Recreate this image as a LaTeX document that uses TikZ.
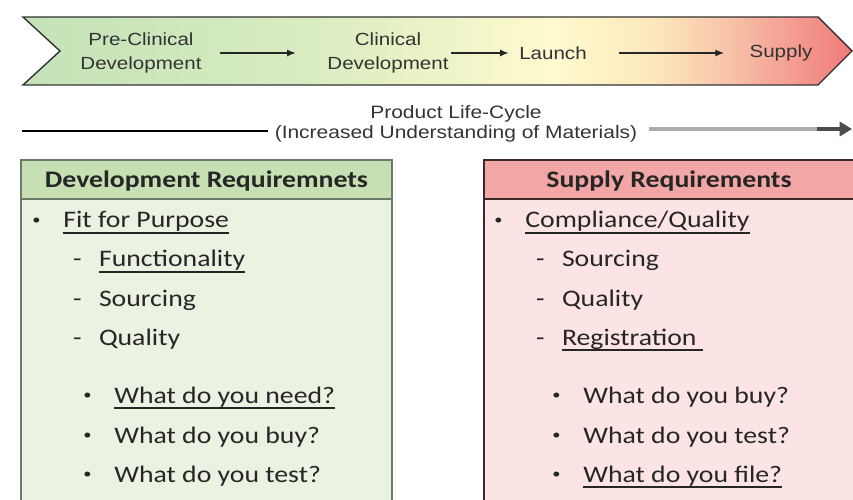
\documentclass[tikz,border=0pt]{standalone}
\usepackage{fontspec}
\setmainfont{Carlito}
\newfontfamily\arialfont{Liberation Sans}
\usepackage{tikz}
\usetikzlibrary{arrows.meta}
\definecolor{stagegreen}{RGB}{196,226,184}
\definecolor{stagelime}{RGB}{216,236,192}
\definecolor{stageyellow}{RGB}{255,250,206}
\definecolor{stagepeach}{RGB}{252,232,188}
\definecolor{stagesalmon}{RGB}{248,200,172}
\definecolor{stagered}{RGB}{240,122,122}
\definecolor{devgreen}{RGB}{198,224,180}
\definecolor{devpale}{RGB}{235,242,226}
\definecolor{devline}{RGB}{110,122,104}
\definecolor{suppink}{RGB}{242,166,166}
\definecolor{suppale}{RGB}{252,228,228}
\definecolor{supline}{RGB}{60,40,40}
\pgfdeclarehorizontalshading{stageshade}{100bp}{color(0bp)=(stagegreen); color(25bp)=(stagegreen); color(42bp)=(stagelime); color(57bp)=(stageyellow); color(63bp)=(stagepeach); color(67bp)=(stagesalmon); color(75bp)=(stagered); color(100bp)=(stagered)}
\newcommand{\undl}[1]{\setbox0\hbox{#1}\rlap{\rule[-3.2pt]{\wd0}{0.8pt}}\box0}
\newcommand{\bul}{\makebox[16.7pt][l]{\hspace{1.6pt}\raisebox{1.8pt}{\fontsize{8}{8}\selectfont•}}}
\newcommand{\dsh}{\makebox[12.6pt][l]{-}}

\begin{document}
\begin{tikzpicture}[x=0.02cm, y=-0.02cm, every node/.style={xscale=1.17}]
    \tikzstyle{stage} = [font=\arialfont\fontsize{10}{13.3}\selectfont, text=black!80, align=center, inner sep=1pt]
    \tikzstyle{flow} = [-{Latex[length=5pt,width=4pt]}, line width=1.1pt, black!85]
    \tikzstyle{boxtitle} = [anchor=base, inner sep=0pt, font=\fontsize{13.5}{16}\selectfont\bfseries, text=black!85]
    \tikzstyle{item} = [anchor=base west, inner sep=0pt, font=\fontsize{13.5}{16}\selectfont, text=black!85]

    \useasboundingbox (0,0) rectangle (853,500);

    % Chevron with the stages
    \shadedraw[shading=stageshade, draw=black!80, line width=0.8pt] (23,17) -- (818,17) -- (852,51) -- (818,85) -- (23,85) -- (60,51) -- cycle;
    \node [stage] (preclin) at (141,53) {Pre-Clinical\\Development};
    \node [stage] (clin) at (388,53) {Clinical\\Development};
    \node [stage] (launch) at (553,53) {Launch};
    \node [stage] (supply) at (781,53) {Supply};

    % Arrows between stages
    \draw [flow, shorten <=9pt, shorten >=16.5pt] (preclin) -- (clin);
    \draw [flow, shorten >=4.5pt] (clin) -- (launch);
    \draw [flow, shorten <=17pt, shorten >=13pt] (launch) -- (supply);

    % Product life-cycle line
    \node [font=\arialfont\fontsize{10.2}{11.3}\selectfont, align=center, text=black!80] (life) at (456,124) {Product Life-Cycle\\(Increased Understanding of Materials)};
    \coordinate (lc_start) at (22,131);
    \coordinate (lc_dark) at (817,129);
    \coordinate (lc_end) at (852,129);
    \draw [line width=1.6pt] (lc_start) -- (life.west |- lc_start);
    \draw [line width=2.6pt, gray!65, shorten <=2.8pt] (life.east |- lc_end) -- (lc_dark);
    \draw [line width=2.6pt, black!70, -{Triangle[length=7pt,width=8pt]}] (lc_dark) -- (lc_end);

    % Development requirements box
    \filldraw [draw=devline, fill=devpale, line width=0.9pt] (21,160) rectangle (392,510);
    \filldraw [draw=devline, fill=devgreen, line width=0.9pt] (21,160) rectangle (392,199);
    \node [boxtitle] (dev_title) at (206.5,188) {Development Requiremnets};
    \node [item] (dev_fit) at (28.6,228) {\bul\undl{Fit for Purpose}};
    \node [item] (dev_func) at (72.7,267) {\dsh\undl{Functionality}};
    \node [item] (dev_src) at (72.7,306) {\dsh Sourcing};
    \node [item] (dev_qual) at (72.7,345) {\dsh Quality};
    \node [item] (dev_need) at (79.6,403) {\bul\undl{What do you need?}};
    \node [item] (dev_buy) at (79.6,443) {\bul What do you buy?};
    \node [item] (dev_test) at (79.6,482) {\bul What do you test?};

    % Supply requirements box
    \filldraw [draw=supline, fill=suppale, line width=0.9pt] (484,160) rectangle (870,510);
    \filldraw [draw=supline, fill=suppink, line width=0.9pt] (484,160) rectangle (870,199);
    \node [boxtitle] (sup_title) at (669,188) {Supply Requirements};
    \node [item] (sup_comp) at (490.6,228) {\bul\undl{Compliance/Quality}};
    \node [item] (sup_src) at (535.7,267) {\dsh Sourcing};
    \node [item] (sup_qual) at (535.7,306) {\dsh Quality};
    \node [item] (sup_reg) at (535.7,345) {\dsh\undl{Registration\ }};
    \node [item] (sup_buy) at (548.6,403) {\bul What do you buy?};
    \node [item] (sup_test) at (548.6,443) {\bul What do you test?};
    \node [item] (sup_file) at (548.6,482) {\bul\undl{What do you file?}};
\end{tikzpicture}
\end{document}
